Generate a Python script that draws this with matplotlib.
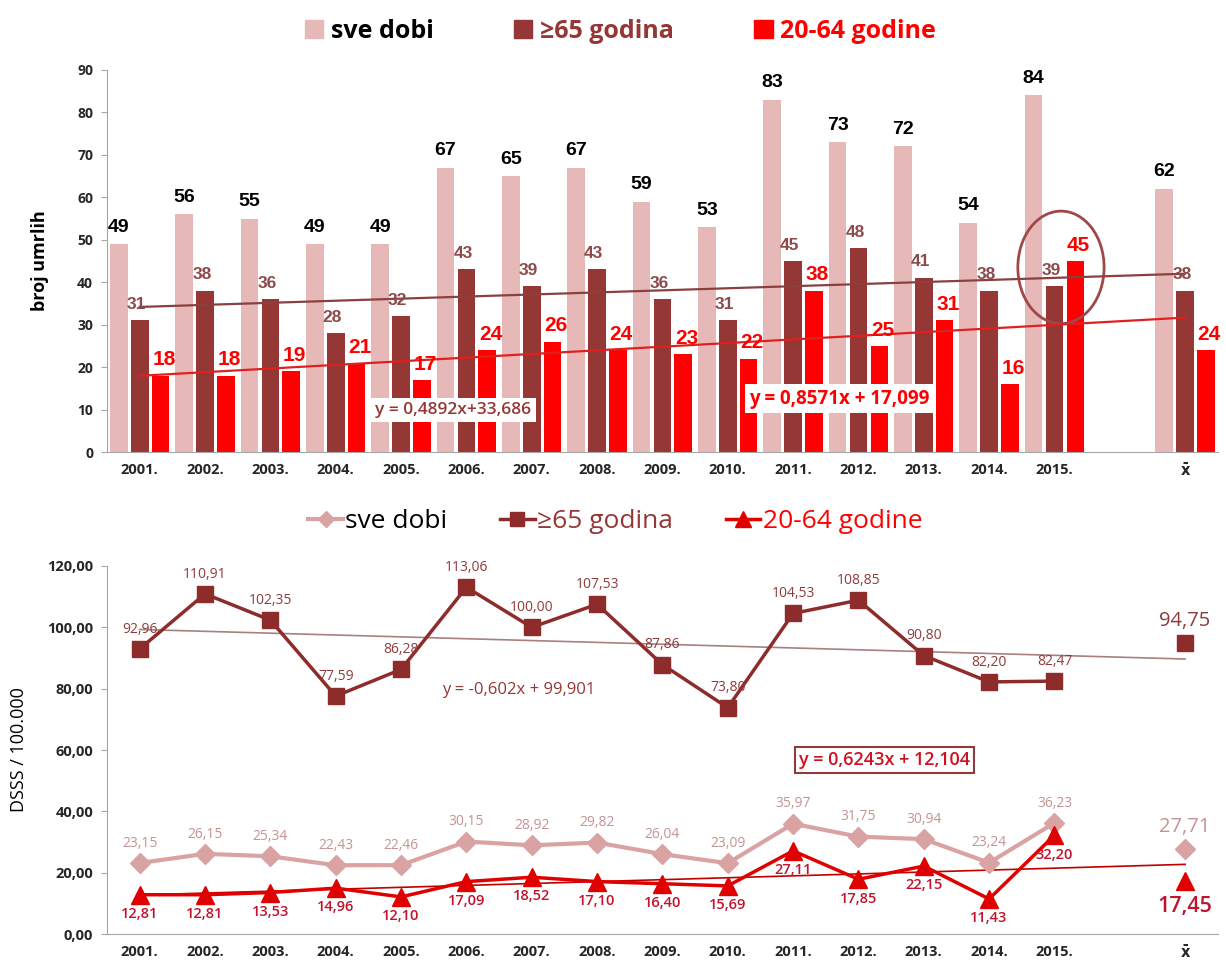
import numpy as np
import matplotlib.pyplot as plt
from matplotlib.patches import Ellipse
from matplotlib.lines import Line2D

# categories: 2001..2015, empty slot, mean
years = [f"{y}." for y in range(2001, 2016)]
mean_label = "x\u0304"

# top chart - number of deaths
sve_n = [49, 56, 55, 49, 49, 67, 65, 67, 59, 53, 83, 73, 72, 54, 84]
old_n = [31, 38, 36, 28, 32, 43, 39, 43, 36, 31, 45, 48, 41, 38, 39]
mid_n = [18, 18, 19, 21, 17, 24, 26, 24, 23, 22, 38, 25, 31, 16, 45]
mean_n = [62, 38, 24]
trend_old_n = (0.4892, 33.686)
trend_mid_n = (0.8571, 17.099)

# bottom chart - DSSS / 100.000
sve_r = [23.15, 26.15, 25.34, 22.43, 22.46, 30.15, 28.92, 29.82, 26.04, 23.09,
         35.97, 31.75, 30.94, 23.24, 36.23]
old_r = [92.96, 110.91, 102.35, 77.59, 86.28, 113.06, 100.00, 107.53, 87.86,
         73.80, 104.53, 108.85, 90.80, 82.20, 82.47]
mid_r = [12.81, 12.81, 13.53, 14.96, 12.10, 17.09, 18.52, 17.10, 16.40, 15.69,
         27.11, 17.85, 22.15, 11.43, 32.20]
mean_r = [27.71, 94.75, 17.45]
trend_old_r = (-0.602, 99.901)
trend_mid_r = (0.6243, 12.104)

c_sve = "#E6B9B8"
c_old = "#953735"
c_mid = "#FF0000"

plt.rcParams['font.family'] = ['Open Sans', 'DejaVu Sans']

fig = plt.figure(figsize=(12.26, 9.69), dpi=100)

x = np.arange(len(years))
xm = len(years) + 1  # mean position, one empty slot
xticks = list(x) + [xm]
xlabels = years + [mean_label]


def fmt(v):
    return f"{v:.2f}".replace(".", ",")


def style_axis(ax):
    for s in ['top', 'right']:
        ax.spines[s].set_visible(False)
    for s in ['left', 'bottom']:
        ax.spines[s].set_color('#A6A6A6')
    ax.tick_params(axis='x', length=0, pad=8)
    ax.tick_params(axis='y', colors='#A6A6A6', labelcolor='#262626', length=4, pad=6)
    ax.set_xticks(xticks)
    ax.set_xticklabels(xlabels, fontsize=10.5, fontweight='bold', color='#262626')
    ax.get_xticklabels()[-1].set_family('DejaVu Sans')
    ax.set_xlim(-0.5, xm + 0.5)


# ---------------- top chart ----------------
ax1 = fig.add_axes([0.0873, 0.5335, 0.906, 0.3943])
w = 0.27
off = 0.32
ax1.bar(x - off, sve_n, w, color=c_sve)
ax1.bar(x, old_n, w, color=c_old)
ax1.bar(x + off, mid_n, w, color=c_mid)
ax1.bar(xm - off, mean_n[0], w, color=c_sve)
ax1.bar(xm, mean_n[1], w, color=c_old)
ax1.bar(xm + off, mean_n[2], w, color=c_mid)

all_sve = sve_n + [mean_n[0]]
all_old = old_n + [mean_n[1]]
all_mid = mid_n + [mean_n[2]]
for xi, a, b, c in zip(xticks, all_sve, all_old, all_mid):
    ax1.text(xi - off, a + 2, str(a), ha='center', va='bottom', fontsize=14,
             fontweight='bold', color='black', family='Liberation Sans')
    ax1.text(xi - 0.05, b + 2, str(b), ha='center', va='bottom', fontsize=12.5,
             fontweight='bold', color='#8C4A4A', family='Liberation Sans')
    ax1.text(xi + off + 0.05, c + 1.5, str(c), ha='center', va='bottom', fontsize=15,
             fontweight='bold', color=c_mid, family='Liberation Sans')

tx = np.array([0, xm])
ax1.plot(tx, trend_old_n[0] * (tx + 1) + trend_old_n[1], color='#8B4040', lw=1.6)
ax1.plot(tx, trend_mid_n[0] * (tx + 1) + trend_mid_n[1], color='#E02020', lw=1.6)

ax1.text(4.8, 9.9, "y = 0,4892x+33,686", ha='center', va='center', fontsize=12.5,
         color=c_old, fontweight='semibold',
         bbox=dict(facecolor='white', edgecolor='none', pad=3))
ax1.text(10.7, 12.6, "y = 0,8571x + 17,099", ha='center', va='center', fontsize=13.5,
         color=c_mid, fontweight='bold',
         bbox=dict(facecolor='white', edgecolor='none', pad=3))

ax1.add_patch(Ellipse((14.1, 43.5), 1.32, 26.5, fill=False, edgecolor='#A04848', lw=2))

ax1.set_ylim(0, 90)
ax1.set_yticks(range(0, 91, 10))
ax1.set_yticklabels([str(v) for v in range(0, 91, 10)], fontsize=10, fontweight='bold')
style_axis(ax1)
ax1.set_ylabel("broj umrlih", fontsize=13, fontweight='bold', labelpad=20)

leg1 = [plt.Rectangle((0, 0), 1, 1, color=c) for c in (c_sve, c_old, c_mid)]
lg = fig.legend(leg1, ["sve dobi", "\u226565 godina", "20-64 godine"], loc='center',
                bbox_to_anchor=(0.506, 0.968), ncol=3, frameon=False,
                prop=dict(size=18, weight='bold'), handlelength=0.75, handleheight=0.75,
                handletextpad=0.3, columnspacing=3.2)
for t, c in zip(lg.get_texts(), ('black', c_old, c_mid)):
    t.set_color(c)

# ---------------- bottom chart ----------------
ax2 = fig.add_axes([0.0873, 0.0361, 0.906, 0.3798])
lc_sve = "#D9A3A3"
lc_old = "#8E2B2B"
lc_mid = "#E00000"
ax2.plot(x, sve_r, color=lc_sve, lw=3, marker='D', ms=10, zorder=3)
ax2.plot(x, old_r, color=lc_old, lw=2.5, marker='s', ms=12, zorder=3)
ax2.plot(x, mid_r, color=lc_mid, lw=2.5, marker='^', ms=13, zorder=4)
ax2.plot([xm], [mean_r[0]], color=lc_sve, marker='D', ms=10, ls='none')
ax2.plot([xm], [mean_r[1]], color=lc_old, marker='s', ms=12, ls='none')
ax2.plot([xm], [mean_r[2]], color=lc_mid, marker='^', ms=13, ls='none')

ax2.plot(tx, trend_old_r[0] * (tx + 1) + trend_old_r[1], color='#A88080', lw=1.2, zorder=2)
ax2.plot(tx, trend_mid_r[0] * (tx + 1) + trend_mid_r[1], color='#C00000', lw=1.2, zorder=2)

for xi, v in zip(x, sve_r):
    ax2.text(xi, v + 4, fmt(v), ha='center', va='bottom', fontsize=10, color='#C49393')
for xi, v in zip(x, old_r):
    ax2.text(xi, v + 4, fmt(v), ha='center', va='bottom', fontsize=10, color='#8E3B3B')
for xi, v in zip(x, mid_r):
    ax2.text(xi, v - 4, fmt(v), ha='center', va='top', fontsize=10.5, color='#C0142C',
             fontweight='semibold')
ax2.text(xm, mean_r[0] + 4, fmt(mean_r[0]), ha='center', va='bottom', fontsize=14.5, color='#C49393')
ax2.text(xm, mean_r[1] + 4, fmt(mean_r[1]), ha='center', va='bottom', fontsize=14.5, color='#8E3B3B')
ax2.text(xm, mean_r[2] - 5, fmt(mean_r[2]), ha='center', va='top', fontsize=15.5,
         color='#C0142C', fontweight='semibold')

ax2.text(5.8, 79.5, "y = -0,602x + 99,901", ha='center', va='center', fontsize=12,
         color=c_old)
ax2.text(11.4, 56.7, "y = 0,6243x + 12,104", ha='center', va='center', fontsize=13,
         color='#D01020', fontweight='semibold',
         bbox=dict(facecolor='white', edgecolor='#8E3B3B', lw=1.5, pad=3))

ax2.set_ylim(0, 120)
ax2.set_yticks(range(0, 121, 20))
ax2.set_yticklabels([fmt(v) for v in range(0, 121, 20)], fontsize=10.5, fontweight='bold')
style_axis(ax2)
ax2.set_ylabel("DSSS / 100.000", fontsize=13, labelpad=14)

leg2 = [Line2D([0], [0], color=lc_sve, lw=3, marker='D', ms=8),
        Line2D([0], [0], color=lc_old, lw=2.5, marker='s', ms=10),
        Line2D([0], [0], color=lc_mid, lw=2.5, marker='^', ms=11)]
lg2 = fig.legend(leg2, ["sve dobi", "\u226565 godina", "20-64 godine"], loc='center',
                 bbox_to_anchor=(0.502, 0.462), ncol=3, frameon=False,
                 prop=dict(size=19), handlelength=1.3, handletextpad=0.1,
                 columnspacing=2.0)
for t, c in zip(lg2.get_texts(), ('black', c_old, c_mid)):
    t.set_color(c)

fig.savefig("out.png", dpi=100)
